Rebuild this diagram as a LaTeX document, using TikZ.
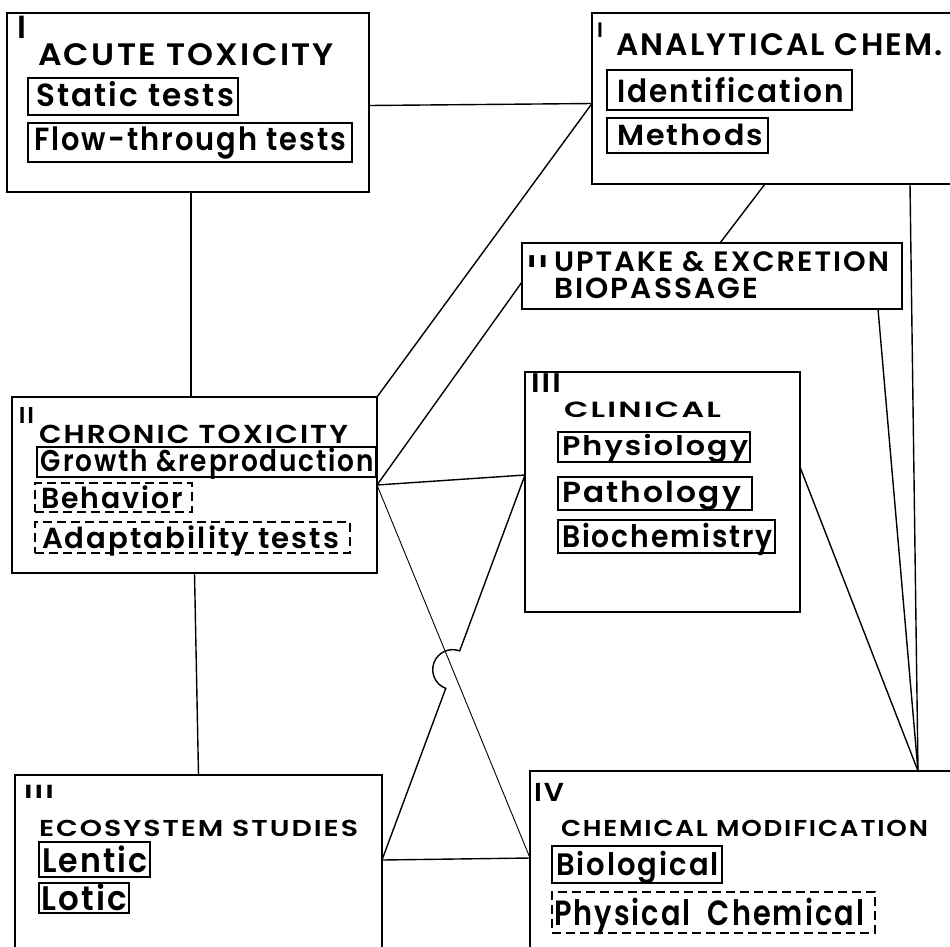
\documentclass[tikz,border=0pt]{standalone}
\usepackage{fontspec}
\setmainfont{Poppins}[BoldFont={Poppins SemiBold}]
\usetikzlibrary{calc}
% letter-spaced bold text at a given size, stretched to a given width
\newcommand{\fitted}[3]{{\fontsize{#1pt}{#1pt}\selectfont\bfseries\addfontfeature{LetterSpace=7}%
  \raisebox{0pt}[\height][0pt]{\resizebox{#2pt}{\height}{#3}}}}
\newcommand{\plain}[2]{{\fontsize{#1pt}{#1pt}\selectfont\bfseries #2}}

\begin{document}
\begin{tikzpicture}[x=1pt,y=1pt,
  panel/.style={draw, line width=1.7pt, rectangle, inner sep=0pt, outer sep=0pt, anchor=north west},
  subbox/.style={draw, line width=1.4pt, rectangle, inner sep=0pt, outer sep=0pt, anchor=north west},
  dashbox/.style={subbox, dash pattern=on 9pt off 5pt},
  lbl/.style={inner sep=0pt, outer sep=0pt, anchor=base west},
  link/.style={line width=1.4pt},
  thinlink/.style={line width=0.9pt}]

\useasboundingbox (0,0) rectangle (950,-946);
\clip (0,0) rectangle (950,-946);

% ---------- main panels ----------
\node[panel, minimum width=362pt, minimum height=179pt] (acute)    at (7,-13)   {};
\node[panel, minimum width=400pt, minimum height=171pt] (anal)     at (592,-13) {};
\node[panel, minimum width=380pt, minimum height=66pt]  (uptake)   at (522,-243) {};
\node[panel, minimum width=365pt, minimum height=176pt] (chronic)  at (12,-397) {};
\node[panel, minimum width=275pt, minimum height=240pt] (clinical) at (525,-372) {};
\node[panel, minimum width=367pt, minimum height=200pt] (eco)      at (15,-775) {};
\node[panel, minimum width=440pt, minimum height=200pt] (chemmod)  at (530,-771) {};

% ---------- I  acute toxicity ----------
\node[lbl] (acuteNum) at (17,-38) {\plain{32}{I}};
\node[lbl] (acuteTitle) at (38,-65) {\fitted{31}{296}{ACUTE TOXICITY}};
\node[subbox, minimum width=210pt, minimum height=37pt] (staticBox) at (28,-78) {};
\node[lbl] (staticTxt) at (36,-106) {\fitted{32}{198}{Static tests}};
\node[subbox, minimum width=324pt, minimum height=39pt] (flowBox) at (28,-123) {};
\node[lbl] (flowTxt) at (34,-150) {\fitted{32}{312}{Flow-through tests}};

% ---------- I  analytical chemistry ----------
\node[lbl] (analNum) at (597,-37) {\plain{21}{I}};
\node[lbl] (analTitle) at (616,-55) {\fitted{31}{327}{ANALYTICAL CHEM.}};
\node[subbox, minimum width=245pt, minimum height=40pt] (identBox) at (607,-70) {};
\node[lbl] (identTxt) at (617,-102) {\fitted{32}{227}{Identification}};
\node[subbox, minimum width=161pt, minimum height=35pt] (methBox) at (607,-118) {};
\node[lbl] (methTxt) at (617,-145) {\fitted{29}{146}{Methods}};

% ---------- II  uptake ----------
\node[lbl] (upNum) at (527,-267) {\fitted{17}{21}{II}};
\node[lbl] (upTitle) at (554,-271) {\fitted{28}{335}{UPTAKE \& EXCRETION}};
\node[lbl] (upSub) at (554,-298) {\fitted{29}{204}{BIOPASSAGE}};

% ---------- II  chronic toxicity ----------
\node[lbl] (chrNum) at (19,-423) {\fitted{23}{15}{II}};
\node[lbl] (chrTitle) at (39,-443) {\fitted{26}{309}{CHRONIC TOXICITY}};
\node[subbox, minimum width=339pt, minimum height=30pt] (growBox) at (37,-447) {};
\node[lbl] (growTxt) at (41,-471) {\fitted{30}{333}{Growth \&reproduction}};
\node[dashbox, minimum width=157pt, minimum height=29pt] (behBox) at (35,-483) {};
\node[lbl] (behTxt) at (41,-508) {\fitted{29}{142}{Behavior}};
\node[dashbox, minimum width=315pt, minimum height=31pt] (adaBox) at (35,-522) {};
\node[lbl] (adaTxt) at (42,-548) {\fitted{29}{297}{Adaptability tests}};

% ---------- III  clinical ----------
\node[lbl] (clinNum) at (531,-392) {\fitted{27}{30}{III}};
\node[lbl] (clinTitle) at (564,-417) {\fitted{22}{157}{CLINICAL}};
\node[subbox, minimum width=192pt, minimum height=30pt] (physBox) at (558,-432) {};
\node[lbl] (physTxt) at (562,-455) {\fitted{27}{186}{Physiology}};
\node[subbox, minimum width=194pt, minimum height=33pt] (pathBox) at (558,-477) {};
\node[lbl] (pathTxt) at (562,-502) {\fitted{29}{179}{Pathology}};
\node[subbox, minimum width=217pt, minimum height=33pt] (bioBox) at (558,-520) {};
\node[lbl] (bioTxt) at (562,-547) {\fitted{31}{211}{Biochemistry}};

% ---------- III  ecosystem studies ----------
\node[lbl] (ecoNum) at (24,-798) {\fitted{19}{30}{III}};
\node[lbl] (ecoTitle) at (39,-836) {\fitted{23}{319}{ECOSYSTEM STUDIES}};
\node[subbox, minimum width=111pt, minimum height=35pt] (lenBox) at (39,-842) {};
\node[lbl] (lenTxt) at (42,-872) {\fitted{34}{106}{Lentic}};
\node[subbox, minimum width=90pt, minimum height=30pt] (lotBox) at (39,-883) {};
\node[lbl] (lotTxt) at (41,-910) {\fitted{34}{86}{Lotic}};

% ---------- IV  chemical modification ----------
\node[lbl] (chemNum) at (534,-801) {\fitted{26}{30}{IV}};
\node[lbl] (chemTitle) at (561,-836) {\fitted{23}{367}{CHEMICAL MODIFICATION}};
\node[subbox, minimum width=170pt, minimum height=37pt] (biolBox) at (552,-846) {};
\node[lbl] (biolTxt) at (556,-875) {\fitted{31}{163}{Biological}};
\node[dashbox, minimum width=323pt, minimum height=41pt] (pcBox) at (552,-892) {};
\node[lbl] (pcTxt) at (554,-925) {\fitted{35}{310}{Physical\hspace{0.6em}Chemical}};

% ---------- attachment points on the panels ----------
\coordinate (acuteE) at ([yshift=-3pt]acute.east);
\coordinate (analW)  at ([yshift=-5pt]anal.west);
\coordinate (analS1) at ($(anal.south west)+(173,0)$);
\coordinate (analS2) at ($(anal.south west)+(318,0)$);
\coordinate (upN)    at ($(uptake.north west)+(198,0)$);
\coordinate (upW)    at ([yshift=-6pt]uptake.west);
\coordinate (upS)    at ($(uptake.south east)+(-24,0)$);
\coordinate (chrE)   at (chronic.east);
\coordinate (clinW)  at ([yshift=17pt]clinical.west);
\coordinate (clinE)  at ([yshift=25pt]clinical.east);
\coordinate (ecoE)   at ($(eco.north east)+(0,-85)$);
\coordinate (chemW)  at ($(chemmod.north west)+(0,-87)$);
\coordinate (chemN)  at ($(chemmod.north west)+(388,0)$);

% ---------- connectors ----------
\draw[link] ([xshift=3pt]acute.south) -- ([xshift=3pt]acute.south |- chronic.north);
\draw[link] (chronic.south) -- (eco.north);
\draw[link] (acuteE) -- (analW);
\draw[link] (chronic.north east) -- (analW);
\draw[link] (chrE) -- (upW);
\draw[link] (chrE) -- (clinW);
\draw[thinlink] (chrE) -- (chemW);
\draw[link] (analS1) -- (upN);
\draw[link] (analS2) -- (chemN);
\draw[link] (upS) -- (chemN);
\draw[link] (clinE) -- (chemN);
\draw[link] (ecoE) -- (chemW);

% clinical to ecosystem, hopping over the chronic to modification line
\coordinate (cross) at (intersection of chrE--chemW and clinW--ecoE);
\draw[link] (clinW) -- ($(cross)!20pt!(clinW)$)
  arc[start angle=69.6, delta angle=180, radius=20pt] -- (ecoE);

\end{tikzpicture}
\end{document}
